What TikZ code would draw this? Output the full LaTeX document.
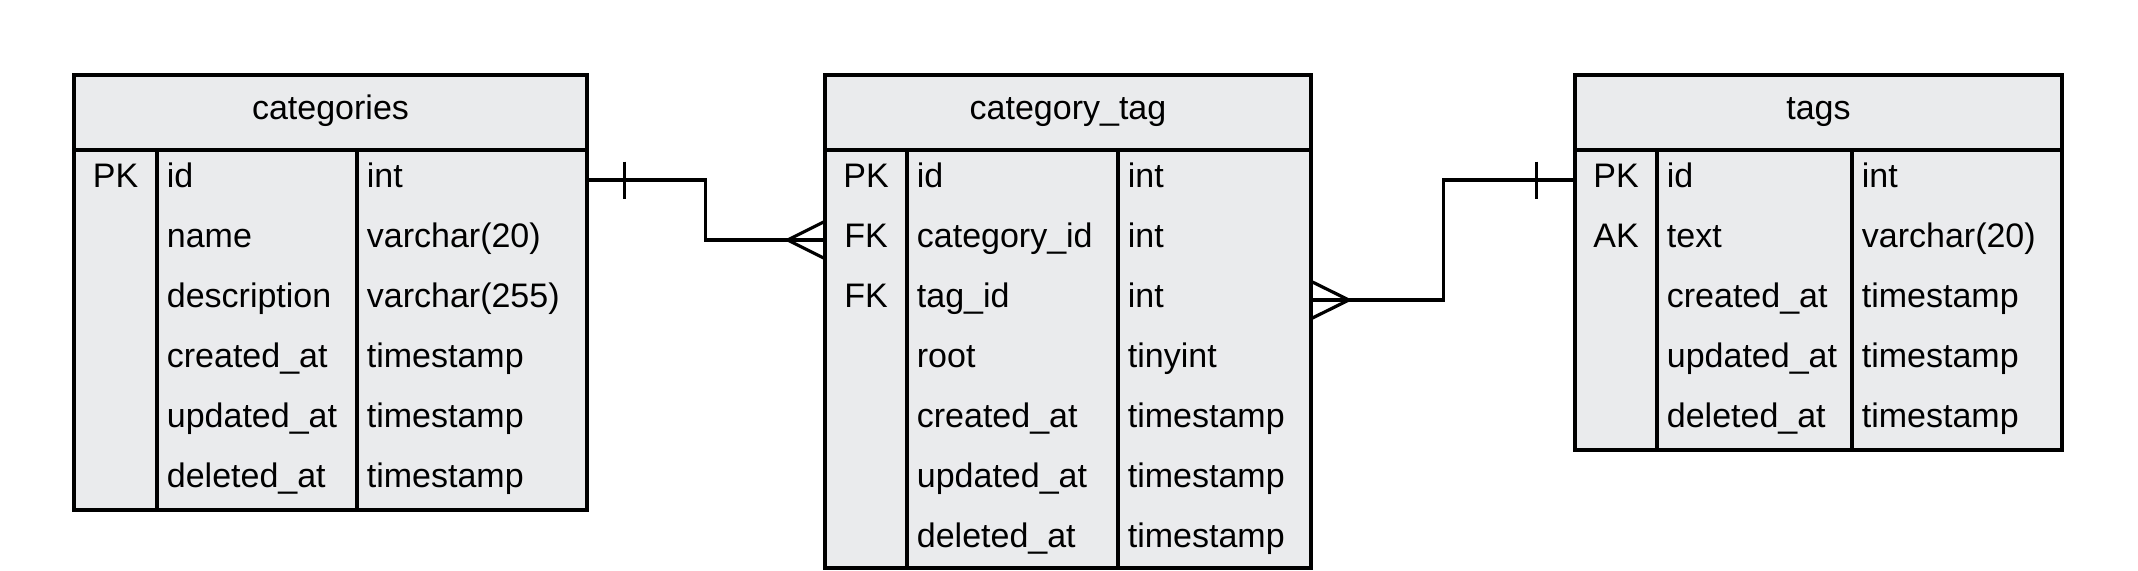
\documentclass[tikz,border=0pt]{standalone}
\usepackage{fontspec}
\setmainfont{Liberation Sans}
\definecolor{tblfill}{RGB}{234,235,237}
\begin{document}
\begin{tikzpicture}[x=0.5pt,y=-0.5pt,
  tablebox/.style={draw=black, fill=tblfill, line width=1.7pt, inner sep=0pt, rectangle},
  rowbox/.style={inner sep=0pt, minimum height=30pt, rectangle},
  divline/.style={draw=black, line width=1.7pt},
  txt/.style={inner sep=0pt, font=\fontsize{17}{20}\selectfont},
  fld/.style={txt, anchor=base west},
  keytxt/.style={txt, anchor=base},
  conn/.style={draw=black, line width=1.6pt}]
\useasboundingbox (0,0) rectangle (2138,570);

% ---------- categories ----------
\node[tablebox, minimum width=256.5pt, minimum height=217.5pt] (categories) at (330.5,292.5) {};
\draw[divline] (74,150) -- (587,150);
\draw[divline] (157,150) -- (157,510);
\draw[divline] (357,150) -- (357,510);
\node[keytxt] (cat-title) at (330.5,119) {categories};
\node[rowbox, minimum width=256.5pt] (cat-r0) at (330.5,180) {};
\node[keytxt] (cat-k0) at (115.5,187.5) {PK};
\node[fld] (cat-f0) at (166.5,187.5) {id};
\node[fld] (cat-t0) at (366.5,187.5) {int};
\node[fld] (cat-f1) at (166.5,247.5) {name};
\node[fld] (cat-t1) at (366.5,247.5) {varchar(20)};
\node[fld] (cat-f2) at (166.5,307.5) {description};
\node[fld] (cat-t2) at (366.5,307.5) {varchar(255)};
\node[fld] (cat-f3) at (166.5,367.5) {created\_at};
\node[fld] (cat-t3) at (366.5,367.5) {timestamp};
\node[fld] (cat-f4) at (166.5,427.5) {updated\_at};
\node[fld] (cat-t4) at (366.5,427.5) {timestamp};
\node[fld] (cat-f5) at (166.5,487.5) {deleted\_at};
\node[fld] (cat-t5) at (366.5,487.5) {timestamp};

% ---------- category_tag ----------
\node[tablebox, minimum width=243pt, minimum height=246.5pt] (cattag) at (1068,321.5) {};
\draw[divline] (825,150) -- (1311,150);
\draw[divline] (907,150) -- (907,568);
\draw[divline] (1118,150) -- (1118,568);
\node[keytxt] (ct-title) at (1068,119) {category\_tag};
\node[rowbox, minimum width=243pt] (ct-r1) at (1068,240) {};
\node[rowbox, minimum width=243pt] (ct-r2) at (1068,300) {};
\node[keytxt] (ct-k0) at (866,187.5) {PK};
\node[keytxt] (ct-k1) at (866,247.5) {FK};
\node[keytxt] (ct-k2) at (866,307.5) {FK};
\node[fld] (ct-f0) at (916.5,187.5) {id};
\node[fld] (ct-t0) at (1127.5,187.5) {int};
\node[fld] (ct-f1) at (916.5,247.5) {category\_id};
\node[fld] (ct-t1) at (1127.5,247.5) {int};
\node[fld] (ct-f2) at (916.5,307.5) {tag\_id};
\node[fld] (ct-t2) at (1127.5,307.5) {int};
\node[fld] (ct-f3) at (916.5,367.5) {root};
\node[fld] (ct-t3) at (1127.5,367.5) {tinyint};
\node[fld] (ct-f4) at (916.5,427.5) {created\_at};
\node[fld] (ct-t4) at (1127.5,427.5) {timestamp};
\node[fld] (ct-f5) at (916.5,487.5) {updated\_at};
\node[fld] (ct-t5) at (1127.5,487.5) {timestamp};
\node[fld] (ct-f6) at (916.5,547.5) {deleted\_at};
\node[fld] (ct-t6) at (1127.5,547.5) {timestamp};

% ---------- tags ----------
\node[tablebox, minimum width=243.5pt, minimum height=187.5pt] (tags) at (1818.5,262.5) {};
\draw[divline] (1575,150) -- (2062,150);
\draw[divline] (1657,150) -- (1657,450);
\draw[divline] (1852,150) -- (1852,450);
\node[keytxt] (tg-title) at (1818.5,119) {tags};
\node[rowbox, minimum width=243.5pt] (tg-r0) at (1818.5,180) {};
\node[keytxt] (tg-k0) at (1616,187.5) {PK};
\node[keytxt] (tg-k1) at (1616,247.5) {AK};
\node[fld] (tg-f0) at (1666.5,187.5) {id};
\node[fld] (tg-t0) at (1861.5,187.5) {int};
\node[fld] (tg-f1) at (1666.5,247.5) {text};
\node[fld] (tg-t1) at (1861.5,247.5) {varchar(20)};
\node[fld] (tg-f2) at (1666.5,307.5) {created\_at};
\node[fld] (tg-t2) at (1861.5,307.5) {timestamp};
\node[fld] (tg-f3) at (1666.5,367.5) {updated\_at};
\node[fld] (tg-t3) at (1861.5,367.5) {timestamp};
\node[fld] (tg-f4) at (1666.5,427.5) {deleted\_at};
\node[fld] (tg-t4) at (1861.5,427.5) {timestamp};

% ---------- connectors ----------
% categories.id (one) -> category_tag.category_id (many)
\draw[conn] (cat-r0.east) -- ++(118,0) |- (ct-r1.west);
\draw[conn] (cat-r0.east) ++(37,-18.5) -- ++(0,37);
\draw[conn] (ct-r1.west) ++(0,-18.5) -- ++(-37,18.5) -- ++(37,18.5);

% category_tag.tag_id (many) -> tags.id (one)
\draw[conn] (ct-r2.east) -- ++(132,0) |- (tg-r0.west);
\draw[conn] (ct-r2.east) ++(0,-18.5) -- ++(37.5,18.5) -- ++(-37.5,18.5);
\draw[conn] (tg-r0.west) ++(-38,-18.5) -- ++(0,37);
\end{tikzpicture}
\end{document}
